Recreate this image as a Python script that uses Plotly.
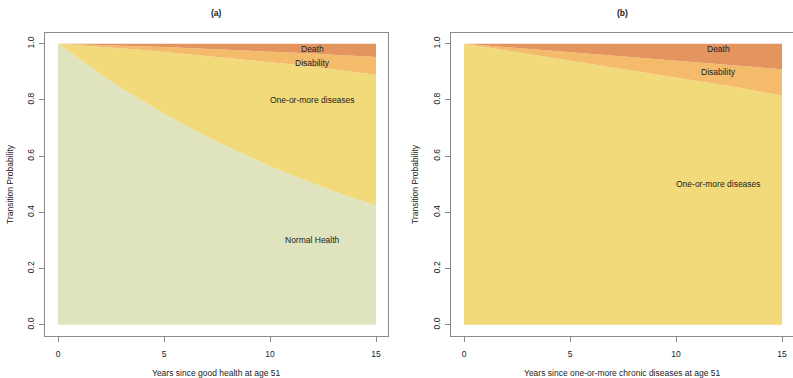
import plotly.graph_objects as go

years = list(range(16))

# Panel (a): starting in good health at age 51
a_normal = [1.0, 0.945, 0.892, 0.842, 0.796, 0.751, 0.710, 0.670, 0.633, 0.598,
            0.564, 0.533, 0.503, 0.475, 0.449, 0.424]
a_diseases = [0.0, 0.050, 0.098, 0.141, 0.182, 0.220, 0.254, 0.287, 0.317, 0.345,
              0.372, 0.394, 0.415, 0.434, 0.451, 0.466]
a_disability = [0.0, 0.003, 0.006, 0.010, 0.013, 0.017, 0.021, 0.025, 0.029, 0.033,
                0.037, 0.042, 0.047, 0.052, 0.057, 0.063]
a_death = [0.0, 0.002, 0.004, 0.007, 0.009, 0.012, 0.015, 0.018, 0.021, 0.024,
           0.027, 0.031, 0.035, 0.039, 0.043, 0.047]

# Panel (b): starting with one-or-more chronic diseases at age 51
b_diseases = [1.0, 0.988, 0.976, 0.964, 0.952, 0.940, 0.928, 0.916, 0.904, 0.892,
              0.880, 0.868, 0.855, 0.843, 0.829, 0.816]
b_disability = [0.0, 0.006, 0.012, 0.018, 0.024, 0.030, 0.036, 0.042, 0.048, 0.054,
                0.060, 0.066, 0.073, 0.079, 0.086, 0.093]
b_death = [0.0, 0.006, 0.012, 0.018, 0.024, 0.030, 0.036, 0.042, 0.048, 0.054,
           0.060, 0.066, 0.072, 0.078, 0.085, 0.091]

x_ticks = [0, 5, 10, 15]
y_ticks = [0.0, 0.2, 0.4, 0.6, 0.8, 1.0]
y_tick_labels = ["0.0", "0.2", "0.4", "0.6", "0.8", "1.0"]

COL_NORMAL = "#DFE4BE"
COL_DIS = "#F2DA7B"
COL_DISAB = "#F4BC6A"
COL_DEATH = "#E4955F"

FONT = "Liberation Sans, Arial, sans-serif"
FS = 8.5
AXC = "#8a8a8a"

fig = go.Figure()

def add_stack(xa, ya, group, series):
    for vals, col in series:
        fig.add_trace(go.Scatter(
            x=years, y=vals, xaxis=xa, yaxis=ya, mode="lines",
            stackgroup=group, line=dict(width=0, color=col),
            fillcolor=col, hoverinfo="skip", showlegend=False))

add_stack("x", "y", "a", [(a_normal, COL_NORMAL), (a_diseases, COL_DIS),
                          (a_disability, COL_DISAB), (a_death, COL_DEATH)])
add_stack("x2", "y2", "b", [(b_diseases, COL_DIS), (b_disability, COL_DISAB),
                            (b_death, COL_DEATH)])

W, H = 793, 378
def px_x(p): return p / W
def px_y(p): return 1 - p / H

ydom = [px_y(336), px_y(32.5)]
common_x = dict(tickmode="array", tickvals=x_ticks, ticks="outside", ticklen=5,
                tickcolor=AXC, showgrid=False, zeroline=False, showline=True,
                linecolor=AXC, linewidth=1, ticklabelstandoff=5,
                tickfont=dict(family=FONT, size=FS, color="#222"))
common_y = dict(tickmode="array", tickvals=y_ticks, ticktext=y_tick_labels,
                ticks="outside", ticklen=5, tickcolor=AXC, showgrid=False,
                zeroline=False, showline=True, linecolor=AXC, linewidth=1,
                tickangle=-90, range=[-0.04, 1.04], domain=ydom,
                ticklabelstandoff=2,
                tickfont=dict(family=FONT, size=FS, color="#222"))

fig.update_layout(
    width=W, height=H, margin=dict(l=0, r=0, t=0, b=0),
    paper_bgcolor="white", plot_bgcolor="white",
    font=dict(family=FONT, size=FS, color="#222"),
    xaxis=dict(domain=[px_x(45), px_x(388)], range=[-0.613, 15.566], mirror=True,
               anchor="y", **common_x),
    yaxis=dict(anchor="x", mirror=True, **common_y),
    xaxis2=dict(domain=[px_x(451), 1.0], range=[-0.613, 15.519], mirror=True,
                anchor="y2", **common_x),
    yaxis2=dict(anchor="x2", mirror=False, **common_y),
)

ann = []
def txt(x, y, t, xref, yref, **kw):
    d = dict(x=x, y=y, text=t, xref=xref, yref=yref, showarrow=False,
             xanchor="center", yanchor="middle",
             font=dict(family=FONT, size=FS, color="#222"))
    d.update(kw)
    ann.append(d)

# in-plot labels
txt(12, 0.98, "Death", "x", "y")
txt(12, 0.93, "Disability", "x", "y")
txt(12, 0.80, "One-or-more diseases", "x", "y")
txt(12, 0.30, "Normal Health", "x", "y")
txt(12, 0.98, "Death", "x2", "y2")
txt(12, 0.90, "Disability", "x2", "y2")
txt(12, 0.50, "One-or-more diseases", "x2", "y2")

# titles
txt(px_x(216.5), px_y(13), "<b>(a)</b>", "paper", "paper")
txt(px_x(622.5), px_y(13), "<b>(b)</b>", "paper", "paper")
# axis titles
txt(px_x(216.5), px_y(373), "Years since good health at age 51", "paper", "paper")
txt(px_x(622.5), px_y(373), "Years since one-or-more chronic diseases at age 51", "paper", "paper")
txt(px_x(10), px_y(184), "Transition Probability", "paper", "paper", textangle=-90)
txt(px_x(415), px_y(184), "Transition Probability", "paper", "paper", textangle=-90)

fig.update_layout(annotations=ann)
fig.write_html("out.html", config={"displayModeBar": False},
               post_script="document.body.style.margin='0';document.body.style.overflow='hidden';")
